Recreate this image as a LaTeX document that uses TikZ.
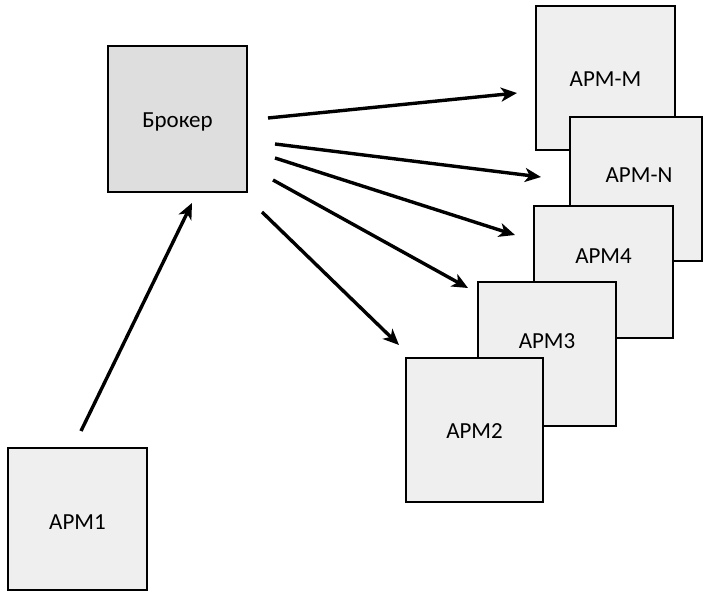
\documentclass[tikz,border=0pt]{standalone}
\usepackage{fontspec}
\setmainfont{Carlito}
\usetikzlibrary{arrows.meta}
\definecolor{boxfill}{HTML}{EFEFEF}
\definecolor{brokerfill}{HTML}{DEDEDE}
\tikzset{
  box/.style={draw=black, line width=2pt, fill=boxfill, rectangle, inner sep=0pt},
  brokerbox/.style={box, fill=brokerfill},
  lbl/.style={anchor=base, inner sep=0pt, font=\fontsize{23}{27}\selectfont},
  conn/.style={line width=3.4pt, -{Stealth[length=16pt, width=14pt, inset=4.5pt]}}
}
\begin{document}
\begin{tikzpicture}[x=1pt, y=-1pt]
\useasboundingbox (0,0) rectangle (703,593);
% boxes
\node[brokerbox, minimum width=139pt, minimum height=146pt] (broker) at (177.5,119) {};
\node[box, minimum width=139pt, minimum height=142pt] (apm1) at (77.5,519) {};
\node[box, minimum width=139pt, minimum height=144pt] (apmM) at (605.5,78) {};
\node[box, minimum width=132pt, minimum height=144pt] (apmN) at (636,189) {};
\node[box, minimum width=139pt, minimum height=132pt] (apm4) at (603.5,272) {};
\node[box, minimum width=138pt, minimum height=144pt] (apm3) at (547,354) {};
\node[box, minimum width=137pt, minimum height=144pt] (apm2) at (474.5,430) {};
% labels
\node[lbl] (tbroker) at (177.5,127.4) {Брокер};
\node[lbl] (tapm1) at (77.5,529) {АРМ1};
\node[lbl] (tapmM) at (605.5,87) {АРМ-М};
\node[lbl] (tapmN) at (639,183) {АРМ-N};
\node[lbl] (tapm4) at (603.5,264) {АРМ4};
\node[lbl] (tapm3) at (547,348) {АРМ3};
\node[lbl] (tapm2) at (474.5,438.5) {АРМ2};
% connector end points
\coordinate (s1) at (268,118);  \coordinate (e1) at (517,93);
\coordinate (s2) at (275,144);  \coordinate (e2) at (541,177);
\coordinate (s3) at (275,158);  \coordinate (e3) at (515,235);
\coordinate (s4) at (273,180);  \coordinate (e4) at (468,288);
\coordinate (s5) at (262,212);  \coordinate (e5) at (399,345);
\coordinate (s6) at (81,431);   \coordinate (e6) at (192,203);
% connectors
\draw[conn] (s1) -- (e1);
\draw[conn] (s2) -- (e2);
\draw[conn] (s3) -- (e3);
\draw[conn] (s4) -- (e4);
\draw[conn] (s5) -- (e5);
\draw[conn] (s6) -- (e6);
\end{tikzpicture}
\end{document}
